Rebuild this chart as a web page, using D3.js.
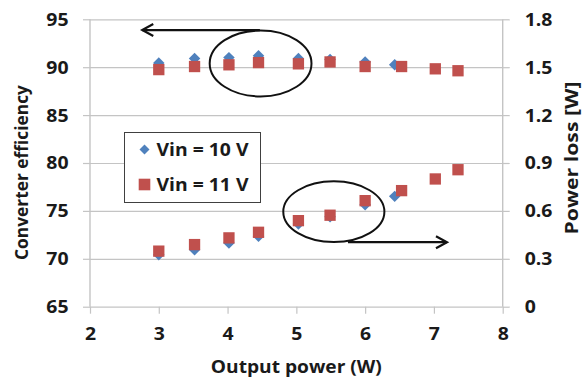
<!DOCTYPE html>
<html>
<head>
<meta charset="utf-8">
<script src="https://cdn.jsdelivr.net/npm/d3@7/dist/d3.min.js"></script>
<style>
  html, body { margin: 0; padding: 0; background: #fff; }
  svg { display: block; }
  text { font-family: "Open Sans", "Liberation Sans", sans-serif; font-weight: 700; fill: #1a1a1a; }
</style>
</head>
<body>
<svg id="chart" width="588" height="379"></svg>
<script>
// Output power (W) for each measurement point
const power10 = [3.0, 3.52, 4.02, 4.45, 5.03, 5.49, 6.0, 6.43];
const power11 = [3.0, 3.52, 4.02, 4.45, 5.03, 5.49, 6.0, 6.53, 7.02, 7.35];

// Converter efficiency (%) — left axis
const eff10 = [90.45, 90.9, 91.0, 91.2, 90.9, 90.8, 90.55, 90.25];
const eff11 = [89.75, 90.07, 90.25, 90.48, 90.35, 90.55, 90.07, 90.07, 89.83, 89.63];

// Power loss (W) — right axis
const loss10 = [0.326, 0.357, 0.399, 0.441, 0.518, 0.563, 0.638, 0.691];
const loss11 = [0.348, 0.389, 0.431, 0.466, 0.539, 0.573, 0.664, 0.727, 0.80, 0.858];

// Axis ticks
const xTicks = [2, 3, 4, 5, 6, 7, 8];
const effTicks = [65, 70, 75, 80, 85, 90, 95];
const lossTicks = [0, 0.3, 0.6, 0.9, 1.2, 1.5, 1.8];

const seriesNames = ["Vin = 10 V", "Vin = 11 V"];
const colors = ["#4F81BD", "#C0504D"];

// Ellipse + arrow annotations, in data units
// upper group -> efficiency axis (left), lower group -> loss axis (right)
const effGroup = { cx: 4.48, cy: 90.39, rx: 0.74, ry: 3.44, arrowY: 93.88, arrowFrom: 4.47, arrowTo: 2.76 };
const lossGroup = { cx: 5.545, cy: 0.595, rx: 0.735, ry: 0.19, arrowY: 0.404, arrowFrom: 5.75, arrowTo: 7.19 };

const svg = d3.select("#chart");
const plotL = 90, plotR = 502.7, plotT = 19.3, plotB = 306.7;

const x = d3.scaleLinear().domain([2, 8]).range([plotL, plotR]);
const yL = d3.scaleLinear().domain([65, 95]).range([plotB, plotT]);
const yR = d3.scaleLinear().domain([0, 1.8]).range([plotB, plotT]);

const gridColor = "#c4c4c4";
const tickFont = 18.5;

// slightly widen glyphs of a text selection
function widen(sel, factor) {
  sel.each(function () {
    const len = this.getComputedTextLength();
    d3.select(this).attr("textLength", len * factor).attr("lengthAdjust", "spacingAndGlyphs");
  });
}

// horizontal gridlines
svg.append("g")
  .attr("transform", `translate(${plotL},0)`)
  .call(d3.axisLeft(yL).tickValues(effTicks).tickSize(-(plotR - plotL)).tickFormat(""))
  .call(g => g.select(".domain").remove())
  .call(g => g.selectAll("line").attr("stroke", gridColor).attr("stroke-width", 1.2));

// left axis
svg.append("g")
  .attr("transform", `translate(${plotL},0)`)
  .call(d3.axisLeft(yL).tickValues(effTicks).tickSize(7).tickPadding(14.5).tickFormat(d3.format("d")))
  .call(g => g.select(".domain").attr("stroke", gridColor).attr("stroke-width", 1.4).attr("d", `M0,${plotT}V${plotB}`))
  .call(g => g.selectAll("line").attr("stroke", gridColor).attr("stroke-width", 1.2))
  .call(g => g.selectAll("text").attr("font-size", tickFont).attr("font-family", null).attr("fill", "#1a1a1a").call(widen, 1.05));

// right axis
svg.append("g")
  .attr("transform", `translate(${plotR},0)`)
  .call(d3.axisRight(yR).tickValues(lossTicks).tickSize(7).tickPadding(15)
    .tickFormat(d => d === 0 ? "0" : d3.format(".1f")(d)))
  .call(g => g.select(".domain").attr("stroke", gridColor).attr("stroke-width", 1.4).attr("d", `M0,${plotT}V${plotB}`))
  .call(g => g.selectAll("line").attr("stroke", gridColor).attr("stroke-width", 1.2))
  .call(g => g.selectAll("text").attr("font-size", tickFont).attr("font-family", null).attr("fill", "#1a1a1a").call(widen, 1.05));

// bottom axis
svg.append("g")
  .attr("transform", `translate(0,${plotB})`)
  .call(d3.axisBottom(x).tickValues(xTicks).tickSize(7).tickPadding(13).tickFormat(d3.format("d")))
  .call(g => g.select(".domain").remove())
  .call(g => g.selectAll("line").attr("stroke", gridColor).attr("stroke-width", 1.2))
  .call(g => g.selectAll("text").attr("font-size", tickFont).attr("font-family", null).attr("fill", "#1a1a1a").call(widen, 1.05));

// axis titles
svg.append("text")
  .attr("x", (plotL + plotR) / 2).attr("y", 373)
  .attr("text-anchor", "middle").attr("font-size", 17)
  .attr("textLength", 171).attr("lengthAdjust", "spacingAndGlyphs")
  .text("Output power (W)");

svg.append("text")
  .attr("transform", "translate(27.5,172.5) rotate(-90)")
  .attr("text-anchor", "middle").attr("font-size", 17)
  .attr("textLength", 175).attr("lengthAdjust", "spacingAndGlyphs")
  .text("Converter efficiency");

svg.append("text")
  .attr("transform", "translate(578,158) rotate(-90)")
  .attr("text-anchor", "middle").attr("font-size", 17)
  .attr("textLength", 153).attr("lengthAdjust", "spacingAndGlyphs")
  .text("Power loss [W]");

// markers
const diamond = d3.symbol().type(d3.symbolDiamond2).size(84);
const square = d3.symbol().type(d3.symbolSquare).size(128);

function drawSeries(xs, ys, yScale, sym, color) {
  svg.append("g").selectAll("path")
    .data(xs.map((v, i) => [v, ys[i]]))
    .join("path")
    .attr("d", sym)
    .attr("transform", d => `translate(${x(d[0])},${yScale(d[1])})`)
    .attr("fill", color);
}

drawSeries(power10, eff10, yL, diamond, colors[0]);
drawSeries(power10, loss10, yR, diamond, colors[0]);
drawSeries(power11, eff11, yL, square, colors[1]);
drawSeries(power11, loss11, yR, square, colors[1]);

// annotations: ellipses with arrows pointing toward the relevant axis
function annotate(grp, yScale) {
  svg.append("ellipse")
    .attr("cx", x(grp.cx)).attr("cy", yScale(grp.cy))
    .attr("rx", x(grp.cx + grp.rx) - x(grp.cx))
    .attr("ry", yScale(grp.cy) - yScale(grp.cy + grp.ry))
    .attr("fill", "none").attr("stroke", "#111").attr("stroke-width", 2);
  const y0 = yScale(grp.arrowY);
  const x0 = x(grp.arrowFrom), x1 = x(grp.arrowTo);
  const dir = Math.sign(x1 - x0);
  svg.append("line")
    .attr("x1", x0).attr("y1", y0).attr("x2", x1).attr("y2", y0)
    .attr("stroke", "#111").attr("stroke-width", 2.2);
  svg.append("path")
    .attr("d", `M${x1 - dir * 11},${y0 - 6}L${x1},${y0}L${x1 - dir * 11},${y0 + 6}`)
    .attr("fill", "none").attr("stroke", "#111").attr("stroke-width", 2.2)
    .attr("stroke-linejoin", "miter");
}
annotate(effGroup, yL);
annotate(lossGroup, yR);

// legend
const legend = svg.append("g");
legend.append("rect")
  .attr("x", 124.5).attr("y", 132.5).attr("width", 136).attr("height", 70)
  .attr("fill", "#fff").attr("stroke", "#404040").attr("stroke-width", 1);
const legendSymbols = [
  d3.symbol().type(d3.symbolDiamond2).size(64),
  d3.symbol().type(d3.symbolSquare).size(135)
];
legendSymbols.forEach((sym, i) => {
  const cy = 149.5 + i * 35;
  legend.append("path").attr("d", sym())
    .attr("transform", `translate(144.5,${cy})`).attr("fill", colors[i]);
  legend.append("text")
    .attr("x", 156.5).attr("y", cy).attr("dy", "0.36em")
    .attr("font-size", 18)
    .attr("textLength", 92).attr("lengthAdjust", "spacingAndGlyphs")
    .text(seriesNames[i]);
});
</script>
</body>
</html>
